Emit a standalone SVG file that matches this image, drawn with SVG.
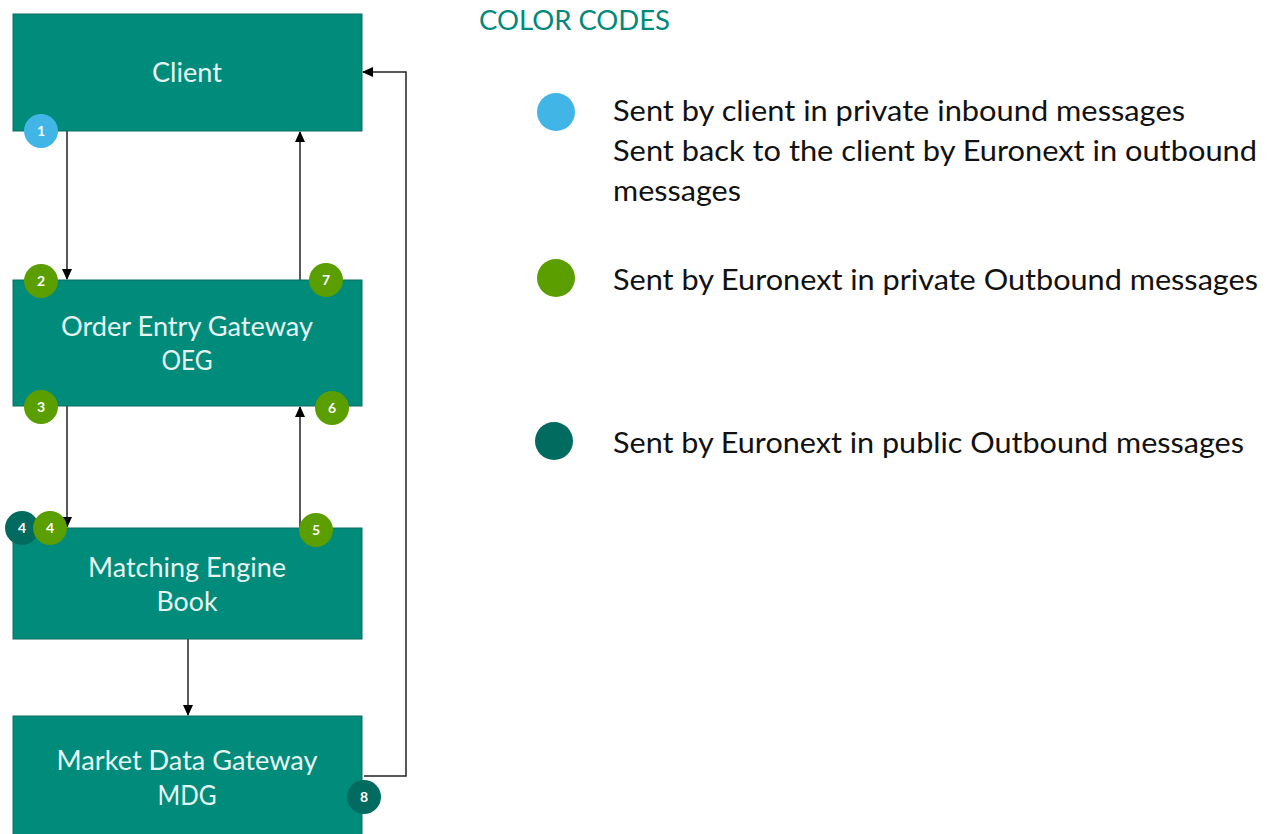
<svg xmlns="http://www.w3.org/2000/svg" width="1271" height="834" viewBox="0 0 1271 834">
<style>
.box{fill:#008B7A;stroke:#0A6F63;stroke-width:1}
.lbl{font-family:Lato,"Liberation Sans",sans-serif;font-size:27px;fill:#E6F5F2;text-anchor:middle}
.num{font-family:Lato,"Liberation Sans",sans-serif;font-size:14px;fill:#fff;text-anchor:middle;font-weight:bold}
.blue{fill:#41B6E6}.green{fill:#5A9E00}.dark{fill:#006B5E}
.conn{fill:none;stroke:#222;stroke-width:1.5}
.leg{font-family:Lato,"Liberation Sans",sans-serif;font-size:28px;fill:#111}
</style>
<defs>
<marker id="ah" markerWidth="12" markerHeight="12" refX="10" refY="6" orient="auto" markerUnits="userSpaceOnUse">
<path d="M0,1 L11,6 L0,11 z" fill="#000"/>
</marker>
</defs>
<rect width="1271" height="834" fill="#fff"/>
<g id="connectors">
<line class="conn" x1="67" y1="131" x2="67" y2="279" marker-end="url(#ah)"/>
<line class="conn" x1="300" y1="280" x2="300" y2="132" marker-end="url(#ah)"/>
<line class="conn" x1="67" y1="406" x2="67" y2="527" marker-end="url(#ah)"/>
<line class="conn" x1="300" y1="528" x2="300" y2="407" marker-end="url(#ah)"/>
<line class="conn" x1="188" y1="639" x2="188" y2="715" marker-end="url(#ah)"/>
<polyline class="conn" points="364,776 406,776 406,72 363,72" marker-end="url(#ah)"/>
</g>
<g id="client">
<rect class="box" x="13" y="14" width="349" height="117"/>
<text class="lbl" x="187" y="82" textLength="70" lengthAdjust="spacingAndGlyphs">Client</text>
</g>
<g id="oeg">
<rect class="box" x="13" y="280" width="349" height="126"/>
<text class="lbl" x="187" y="336" textLength="252" lengthAdjust="spacingAndGlyphs">Order Entry Gateway</text>
<text class="lbl" x="187" y="370" textLength="51" lengthAdjust="spacingAndGlyphs">OEG</text>
</g>
<g id="me">
<rect class="box" x="13" y="528" width="349" height="111"/>
<text class="lbl" x="187" y="577" textLength="198" lengthAdjust="spacingAndGlyphs">Matching Engine</text>
<text class="lbl" x="187" y="611" textLength="61" lengthAdjust="spacingAndGlyphs">Book</text>
</g>
<g id="mdg">
<rect class="box" x="13" y="716" width="349" height="122"/>
<text class="lbl" x="187" y="770" textLength="261" lengthAdjust="spacingAndGlyphs">Market Data Gateway</text>
<text class="lbl" x="187" y="805" textLength="59" lengthAdjust="spacingAndGlyphs">MDG</text>
</g>
<g id="badges">
<circle class="blue" cx="41" cy="131" r="17"/><text class="num" x="41" y="136">1</text>
<circle class="green" cx="41" cy="281" r="17"/><text class="num" x="41" y="286">2</text>
<circle class="green" cx="326" cy="280" r="17"/><text class="num" x="326" y="285">7</text>
<circle class="green" cx="41" cy="407" r="17"/><text class="num" x="41" y="412">3</text>
<circle class="green" cx="332" cy="408" r="17"/><text class="num" x="332" y="413">6</text>
<circle class="dark" cx="22" cy="528" r="17"/><text class="num" x="22" y="533">4</text>
<circle class="green" cx="50" cy="528" r="17"/><text class="num" x="50" y="533">4</text>
<circle class="green" cx="316" cy="530" r="17"/><text class="num" x="316" y="535">5</text>
<circle class="dark" cx="364" cy="797" r="17"/><text class="num" x="364" y="802">8</text>
</g>
<g id="legend">
<text x="479" y="30" textLength="191" lengthAdjust="spacingAndGlyphs" style="font-family:Lato,'Liberation Sans',sans-serif;font-size:27px;fill:#00897B">COLOR CODES</text>
<ellipse class="blue" cx="556" cy="112" rx="19" ry="19"/>
<text class="leg" x="613" y="121" textLength="572" lengthAdjust="spacingAndGlyphs">Sent by client in private inbound messages</text>
<text class="leg" x="613" y="161" textLength="644" lengthAdjust="spacingAndGlyphs">Sent back to the client by Euronext in outbound</text>
<text class="leg" x="613" y="201" textLength="128" lengthAdjust="spacingAndGlyphs">messages</text>
<ellipse class="green" cx="556" cy="278" rx="19" ry="19"/>
<text class="leg" x="613" y="290" textLength="645" lengthAdjust="spacingAndGlyphs">Sent by Euronext in private Outbound messages</text>
<ellipse class="dark" cx="554" cy="441" rx="19" ry="19"/>
<text class="leg" x="613" y="453" textLength="631" lengthAdjust="spacingAndGlyphs">Sent by Euronext in public Outbound messages</text>
</g>
</svg>
